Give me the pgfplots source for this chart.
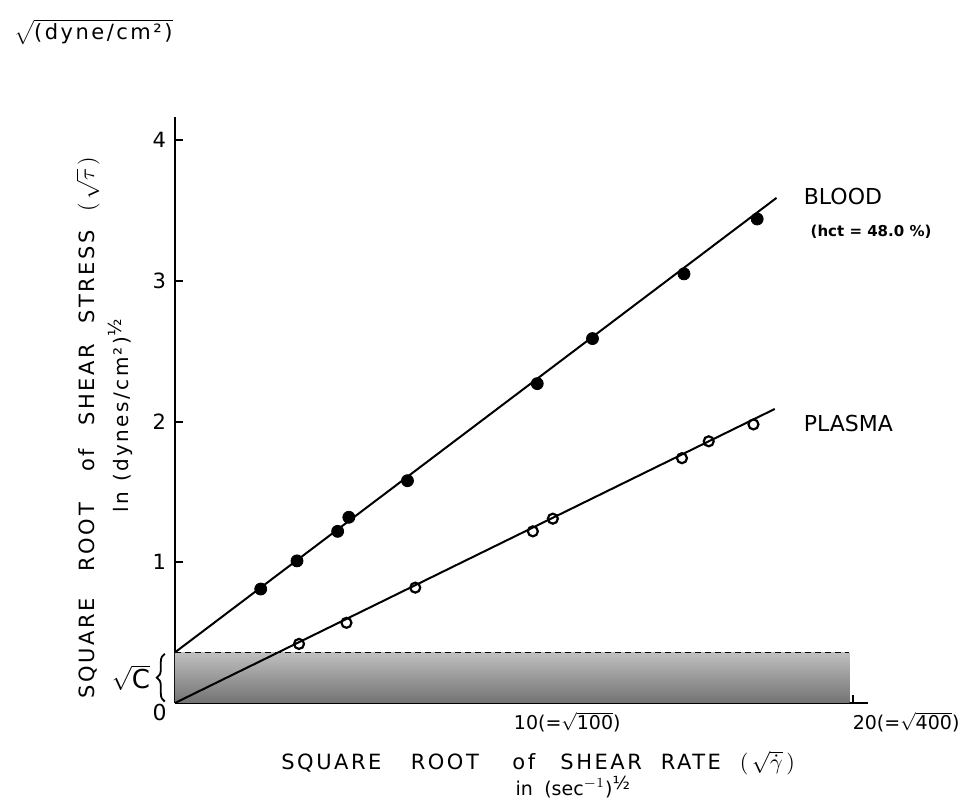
\documentclass[border=0pt]{standalone}
\usepackage{pgfplots}
\pgfplotsset{compat=1.18}
\usepackage{fontspec}
\setmainfont{DejaVu Sans}
\newfontfamily\lab[LetterSpace=12]{DejaVu Sans}
\usetikzlibrary{decorations.pathreplacing}

% blood (hct = 48.0 %), filled circles
\pgfplotstableread{
x     y
2.53  0.81
3.60  1.01
4.80  1.22
5.13  1.32
6.86  1.58
10.69 2.27
12.32 2.59
15.02 3.05
17.18 3.44
}\blood
% plasma, open circles
\pgfplotstableread{
x     y
3.66  0.42
5.06  0.57
7.09  0.82
10.56 1.22
11.15 1.31
14.96 1.74
15.75 1.86
17.07 1.98
}\plasma

\begin{document}
\begin{tikzpicture}
\path[use as bounding box] (-87.5pt,-49.5pt) rectangle (392pt,351.5pt);
\begin{axis}[
  at={(0,0)}, anchor=south west,
  scale only axis,
  width=346.5pt, height=293pt,
  xmin=0, xmax=20.45, ymin=0, ymax=4.165,
  axis x line=bottom, axis y line=left,
  axis line style={-, line width=1.1pt},
  tick align=inside, major tick length=4pt,
  tick style={line width=0.9pt, black},
  xtick={10,20},
  xticklabels={10(=$\sqrt{\mbox{100}}$), 20(=$\sqrt{\mbox{400}}$)},
  xticklabel style={anchor=north west, xshift=-3.5pt, yshift=-1pt, font=\fontsize{9.5}{11}\selectfont},
  ytick={1,2,3,4},
  yticklabel style={font=\fontsize{10.5}{12}\selectfont, xshift=-1pt},
  /pgf/number format/assume math mode=true,
  clip=false,
]
% sqrt(C) band
\addplot[draw=none, top color=black!25, bottom color=black!55] coordinates {(0,0.36) (19.9,0.36)} \closedcycle;
\addplot[densely dashed, line width=0.8pt] coordinates {(0,0.36) (19.9,0.36)};
% fitted lines
\addplot[black, line width=1pt] coordinates {(0,0.36) (17.75,3.59)};
\addplot[black, line width=1pt] coordinates {(0,0) (17.7,2.09)};
% data
\addplot[only marks, mark=*, mark size=3pt, black] table {\blood};
\addplot[only marks, mark=o, mark size=2.5pt, black, line width=1.1pt, mark options={fill=white}] table {\plasma};

\node[anchor=west, font=\fontsize{11}{13}\selectfont] at (axis cs:18.35,3.60) {BLOOD};
\node[anchor=west, font=\bfseries\fontsize{7.5}{9}\selectfont] at (axis cs:18.55,3.35) {(hct = 48.0 \%)};
\node[anchor=west, font=\fontsize{11}{13}\selectfont] at (axis cs:18.35,1.99) {PLASMA};

% brace and sqrt(C)
\draw[line width=0.9pt, decorate, decoration={brace, amplitude=4pt}] (axis cs:-0.3,0.01) -- (axis cs:-0.3,0.35);
\node[font=\fontsize{13}{15}\selectfont] at (axis cs:-1.3,0.18) {$\sqrt{\mbox{C}}$};
\node[font=\fontsize{11}{13}\selectfont] at (axis cs:-0.45,-0.07) {0};

% axis titles
\node[font=\lab\fontsize{10.5}{12}\selectfont] at (axis description cs:0.524,-0.102)
  {SQUARE\hspace{1.4em}ROOT\hspace{1.6em}of\hspace{1.2em}SHEAR\hspace{0.9em}RATE\hspace{0.9em}$(\,\sqrt{\dot\gamma}\,)$};
\node[font=\fontsize{9.5}{11}\selectfont] at (axis description cs:0.574,-0.143)
  {in\hspace{0.6em}(sec$^{-1}$)\raisebox{0.6ex}{\small ½}};
\node[rotate=90, font=\lab\fontsize{10.5}{12}\selectfont] at (axis description cs:-0.1255,0.47)
  {SQUARE\hspace{1.3em}ROOT\hspace{1.5em}of\hspace{1.1em}SHEAR\hspace{1em}STRESS\hspace{0.9em}$(\,\sqrt{\tau}\,)$};
\node[rotate=90, font=\lab\fontsize{10}{12}\selectfont] at (axis description cs:-0.079,0.49)
  {ln\hspace{0.5em}(dynes/cm²)\raisebox{0.6ex}{\small ½}};
\end{axis}
\node[anchor=west, font=\lab\fontsize{10.5}{12}\selectfont] at (-84pt,335.5pt) {$\sqrt{\mbox{(dyne/cm²)}}$};
\end{tikzpicture}
\end{document}
